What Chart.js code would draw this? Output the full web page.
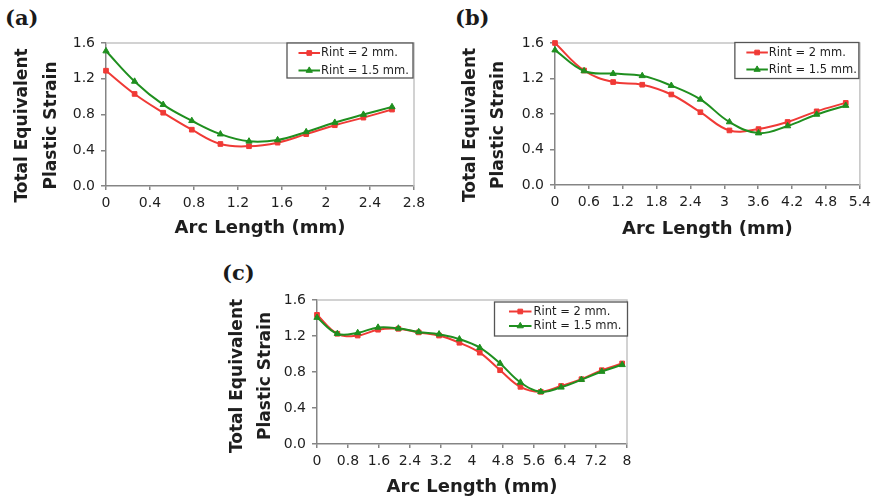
<!DOCTYPE html>
<html><head><meta charset="utf-8">
<script src="https://cdn.jsdelivr.net/npm/chart.js@4.4.1/dist/chart.umd.min.js"></script>
<style>
html,body{margin:0;padding:0;background:#fff;width:876px;height:500px;overflow:hidden}
canvas{position:absolute}
.lbl{position:absolute;font:bold 21px "DejaVu Serif";line-height:1;color:#1a1a1a}
</style></head><body>
<div class="lbl" style="left:5px;top:7px">(a)</div>
<div class="lbl" style="left:455px;top:7px">(b)</div>
<div class="lbl" style="left:222px;top:262px">(c)</div>
<canvas id="ca" width="438" height="250" style="left:0;top:0"></canvas>
<canvas id="cb" width="438" height="250" style="left:438px;top:0"></canvas>
<canvas id="cc" width="440" height="245" style="left:220px;top:255px"></canvas>
<script>
// ---- data ----
const seriesNames = ['Rint = 2 mm.', 'Rint = 1.5 mm.'];
const yTicks = [0, 0.4, 0.8, 1.2, 1.6];
const yTickLabels = ['0.0', '0.4', '0.8', '1.2', '1.6'];

const arcA = [0, 0.26, 0.52, 0.78, 1.04, 1.3, 1.56, 1.82, 2.08, 2.34, 2.6];
const redA = [1.29, 1.03, 0.82, 0.63, 0.47, 0.445, 0.485, 0.58, 0.68, 0.765, 0.855];
const greenA = [1.51, 1.17, 0.91, 0.73, 0.58, 0.50, 0.515, 0.605, 0.71, 0.80, 0.885];
const xTicksA = [0, 0.4, 0.8, 1.2, 1.6, 2, 2.4, 2.8];
const xTickLabelsA = ['0', '0.4', '0.8', '1.2', '1.6', '2', '2.4', '2.8'];

const arcB = [0, 0.515, 1.03, 1.545, 2.06, 2.575, 3.09, 3.605, 4.12, 4.635, 5.15];
const redB = [1.60, 1.29, 1.16, 1.13, 1.02, 0.82, 0.615, 0.63, 0.71, 0.83, 0.925];
const greenB = [1.52, 1.285, 1.255, 1.23, 1.12, 0.965, 0.71, 0.585, 0.665, 0.795, 0.895];
const xTicksB = [0, 0.6, 1.2, 1.8, 2.4, 3, 3.6, 4.2, 4.8, 5.4];
const xTickLabelsB = ['0', '0.6', '1.2', '1.8', '2.4', '3', '3.6', '4.2', '4.8', '5.4'];

const arcC = [0, 0.525, 1.05, 1.575, 2.1, 2.625, 3.15, 3.675, 4.2, 4.725, 5.25, 5.775, 6.3, 6.825, 7.35, 7.875];
const redC = [1.435, 1.225, 1.205, 1.27, 1.28, 1.24, 1.205, 1.125, 1.015, 0.82, 0.635, 0.58, 0.645, 0.72, 0.82, 0.895];
const greenC = [1.405, 1.225, 1.235, 1.295, 1.285, 1.245, 1.22, 1.165, 1.07, 0.895, 0.685, 0.58, 0.63, 0.715, 0.805, 0.88];
const xTicksC = [0, 0.8, 1.6, 2.4, 3.2, 4, 4.8, 5.6, 6.4, 7.2, 8];
const xTickLabelsC = ['0', '0.8', '1.6', '2.4', '3.2', '4', '4.8', '5.6', '6.4', '7.2', '8'];

const yTitleLines = ['Total Equivalent', 'Plastic Strain'];
const xTitle = 'Arc Length (mm)';

// ---- styling / drawing ----
const RED = '#f03a36', GREEN = '#1f8f1f', AXIS = '#858585', FRAME = '#c4c4c4', TXT = '#1e1e1e';

const decor = {
  id: 'decor',
  beforeDatasetsDraw(chart, args, o) {
    const {ctx, chartArea: a} = chart;
    ctx.save();
    ctx.strokeStyle = FRAME; ctx.lineWidth = 1.5;
    ctx.beginPath(); ctx.moveTo(a.left, a.top); ctx.lineTo(a.right, a.top); ctx.lineTo(a.right, a.bottom); ctx.stroke();
    ctx.restore();
  },
  afterDraw(chart, args, o) {
    const {ctx, chartArea: a} = chart;
    ctx.save();
    // y title
    ctx.font = 'bold 17px "DejaVu Sans"'; ctx.fillStyle = TXT;
    ctx.textAlign = 'center'; ctx.textBaseline = 'middle';
    o.yTitle.forEach((t, i) => {
      ctx.save();
      ctx.translate(a.left + o.tx + i * o.tgap, (a.top + a.bottom) / 2 + o.ty);
      ctx.rotate(-Math.PI / 2);
      ctx.fillText(t, 0, 0);
      ctx.restore();
    });
    // legend
    const bx = a.right + o.lgRight - o.lgW, by = a.top + o.lgTop;
    ctx.fillStyle = '#fff'; ctx.fillRect(bx, by, o.lgW, o.lgH);
    ctx.strokeStyle = '#555'; ctx.lineWidth = 1.3; ctx.strokeRect(bx, by, o.lgW, o.lgH);
    ctx.font = o.lgFont; ctx.textAlign = 'left'; ctx.textBaseline = 'middle';
    chart.data.datasets.forEach((ds, i) => {
      const yy = by + o.rows[i];
      ctx.strokeStyle = ds.borderColor; ctx.lineWidth = 2;
      ctx.beginPath(); ctx.moveTo(bx + o.lx0, yy); ctx.lineTo(bx + o.lx1, yy); ctx.stroke();
      ctx.fillStyle = ds.borderColor; ctx.strokeStyle = ds.borderColor; ctx.lineWidth = 1;
      Chart.helpers.drawPoint(ctx, {pointStyle: ds.pointStyle, radius: ds.pointRadius, rotation: 0, borderWidth: 1}, bx + (o.lx0 + o.lx1) / 2, yy);
      ctx.fillStyle = TXT;
      ctx.fillText(ds.label, bx + o.tx0, yy + 0.5);
    });
    ctx.restore();
  }
};

function makeChart(id, geo, arc, red, green, xMax, xTicks, xTickLabels, deco) {
  const el = document.getElementById(id);
  const W = el.width, H = el.height;
  const pts = (ys) => arc.map((x, i) => ({x, y: ys[i]}));
  return new Chart(el, {
    type: 'line',
    data: {
      datasets: [
        {label: seriesNames[0], data: pts(red), borderColor: RED, backgroundColor: RED, borderWidth: 2,
         pointStyle: 'rect', pointRadius: 3.3, pointBorderWidth: 1, tension: 0.4, order: 1, clip: false},
        {label: seriesNames[1], data: pts(green), borderColor: GREEN, backgroundColor: GREEN, borderWidth: 2,
         pointStyle: 'triangle', pointRadius: 3.6, pointBorderWidth: 1, tension: 0.4, order: 0, clip: false}
      ]
    },
    options: {
      responsive: false, animation: false, devicePixelRatio: 1,
      layout: {padding: {left: 0, top: geo.top, right: W - geo.right, bottom: 0}},
      plugins: {legend: {display: false}, tooltip: {enabled: false}, decor: deco},
      scales: {
        x: {
          type: 'linear', min: 0, max: xMax,
          afterFit: s => { s.height = H - geo.bottom; },
          afterBuildTicks: s => { s.ticks = xTicks.map(v => ({value: v})); },
          ticks: {autoSkip: false, maxRotation: 0, padding: 5, color: TXT,
                  font: {family: 'DejaVu Sans', size: 14}, callback: (v, i) => xTickLabels[i]},
          grid: {drawOnChartArea: false, drawTicks: true, tickLength: 4, color: AXIS, lineWidth: 1.5},
          border: {display: true, color: AXIS, width: 1.5},
          title: {display: true, text: xTitle, color: TXT, font: {family: 'DejaVu Sans', size: 18, weight: 'bold'},
                  padding: {top: 0, bottom: geo.xtPad}}
        },
        y: {
          type: 'linear', min: 0, max: 1.6,
          afterFit: s => { s.width = geo.left; },
          afterBuildTicks: s => { s.ticks = yTicks.map(v => ({value: v})); },
          ticks: {padding: 6, color: TXT, font: {family: 'DejaVu Sans', size: 14}, callback: (v, i) => yTickLabels[i]},
          grid: {drawOnChartArea: false, drawTicks: true, tickLength: 5, color: AXIS, lineWidth: 1.5},
          border: {display: true, color: AXIS, width: 1.5}
        }
      }
    },
    plugins: [decor]
  });
}

makeChart('ca', {left: 106, right: 414, top: 43, bottom: 186, xtPad: 11}, arcA, redA, greenA, 2.8, xTicksA, xTickLabelsA,
  {yTitle: yTitleLines, tx: -83, tgap: 28.5, ty: 11, lgW: 126, lgH: 35, lgRight: -1, lgTop: 0,
   lgFont: '11.5px "DejaVu Sans"', rows: [10, 27.5], lx0: 11.5, lx1: 33, tx0: 34});
makeChart('cb', {left: 117, right: 425, top: 43, bottom: 185, xtPad: 10}, arcB, redB, greenB, 5.4, xTicksB, xTickLabelsB,
  {yTitle: yTitleLines, tx: -84, tgap: 28, ty: 11, lgW: 124, lgH: 36, lgRight: -1, lgTop: -0.5,
   lgFont: '11.5px "DejaVu Sans"', rows: [10, 27], lx0: 11.5, lx1: 33, tx0: 34});
makeChart('cc', {left: 97, right: 407, top: 45, bottom: 189, xtPad: 2}, arcC, redC, greenC, 8, xTicksC, xTickLabelsC,
  {yTitle: yTitleLines, tx: -79, tgap: 27.5, ty: 4, lgW: 133, lgH: 34, lgRight: 0.5, lgTop: 2,
   lgFont: '11.5px "DejaVu Sans"', rows: [9.5, 24], lx0: 14.5, lx1: 37, tx0: 39});
</script>
</body></html>
